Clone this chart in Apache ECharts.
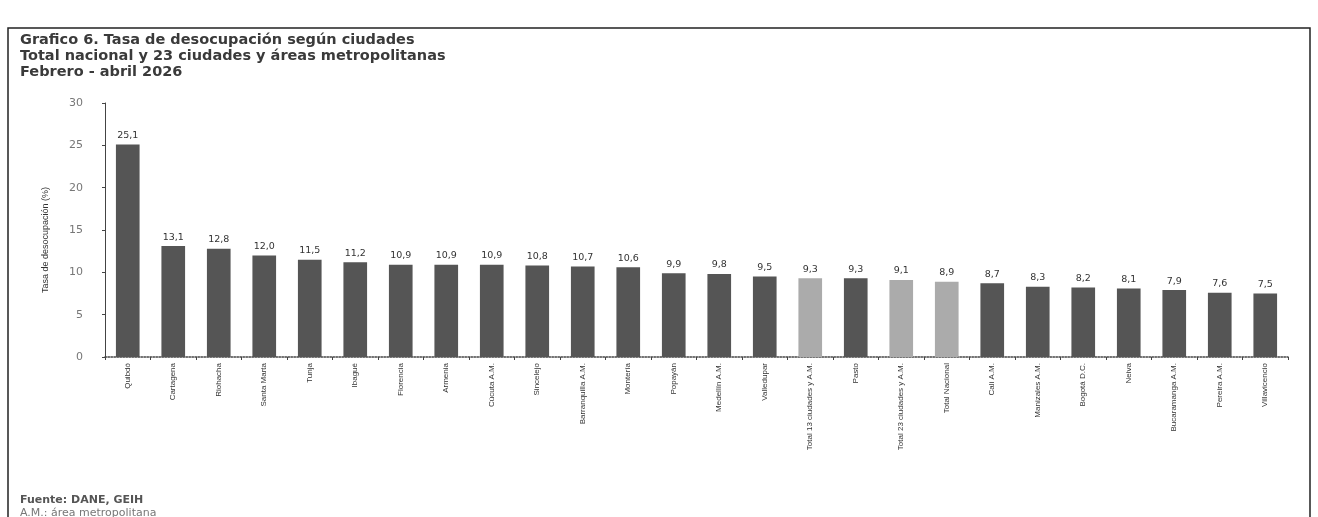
<!DOCTYPE html>
<html>
<head>
<meta charset="utf-8">
<script src="https://cdn.jsdelivr.net/npm/echarts@6/dist/echarts.min.js"></script>
<style>
html,body{margin:0;padding:0;background:#fff;}
#chart{width:1318px;height:517px;}
</style>
</head>
<body>
<div id="chart"></div>
<script>
// ciudades y áreas metropolitanas
const ciudades = ['Quibdó','Cartagena','Riohacha','Santa Marta','Tunja','Ibagué','Florencia','Armenia','Cúcuta A.M.','Sincelejo','Barranquilla A.M.','Montería','Popayán','Medellín A.M.','Valledupar','Total 13 ciudades y A.M.','Pasto','Total 23 ciudades y A.M.','Total Nacional','Cali A.M.','Manizales A.M.','Bogotá D.C.','Neiva','Bucaramanga A.M.','Pereira A.M.','Villavicencio'];
const tasa = [25.1,13.1,12.8,12.0,11.5,11.2,10.9,10.9,10.9,10.8,10.7,10.6,9.9,9.8,9.5,9.3,9.3,9.1,8.9,8.7,8.3,8.2,8.1,7.9,7.6,7.5];
const totales = ['Total 13 ciudades y A.M.','Total 23 ciudades y A.M.','Total Nacional'];

const oscuro = '#555555';
const claro = '#ababab';

let chart = echarts.init(document.getElementById('chart'));
chart.setOption({
  backgroundColor:'#fff',
  animation:false,
  title:{
    text:'Grafico 6. Tasa de desocupación según ciudades\nTotal nacional y 23 ciudades y áreas metropolitanas\nFebrero - abril 2026',
    left:15, top:27,
    textStyle:{fontFamily:'DejaVu Sans',fontSize:14.5,fontWeight:'bold',color:'#3a3a3a',lineHeight:16}
  },
  grid:{left:105,right:30,top:103,bottom:160},
  xAxis:{
    type:'category',
    data:ciudades,
    axisLine:{lineStyle:{color:'#444',type:'dotted',width:1.5}},
    axisTick:{show:true,length:3,lineStyle:{color:'#444'}},
    axisLabel:{rotate:90,interval:0,fontFamily:'Liberation Sans',fontSize:8,color:'#333',margin:6}
  },
  yAxis:{
    type:'value',
    min:0,max:30,interval:5,
    name:'Tasa de desocupación (%)',
    nameLocation:'middle',nameGap:55,
    nameTextStyle:{fontFamily:'Liberation Sans',fontSize:9,color:'#333',padding:[0,0,0,-20]},
    axisLine:{show:true,lineStyle:{color:'#444'}},
    axisTick:{show:true,length:3,lineStyle:{color:'#444'}},
    axisLabel:{fontFamily:'DejaVu Sans',fontSize:11,color:'#777',margin:22},
    splitLine:{show:false}
  },
  series:[{
    type:'bar',
    barWidth:'52%',
    data:tasa.map((v,i)=>({value:v,itemStyle:{color:totales.includes(ciudades[i])?claro:oscuro}})),
    label:{show:true,position:'top',distance:4,fontFamily:'DejaVu Sans',fontSize:9.5,color:'#333',
      formatter:p=>p.value.toFixed(1).replace('.',',')}
  }],
  graphic:[
    {type:'rect',shape:{x:8,y:28,width:1302,height:520},style:{fill:'none',stroke:'#222',lineWidth:1.5},silent:true},
    {type:'text',left:20,top:495,style:{text:'Fuente: DANE, GEIH',font:'bold 11px "DejaVu Sans"',fill:'#555'}},
    {type:'text',left:20,top:508,style:{text:'A.M.: área metropolitana',font:'11px "DejaVu Sans"',fill:'#777'}}
  ]
});
window.addEventListener('resize',function(){chart.resize();});
</script>
</body>
</html>
